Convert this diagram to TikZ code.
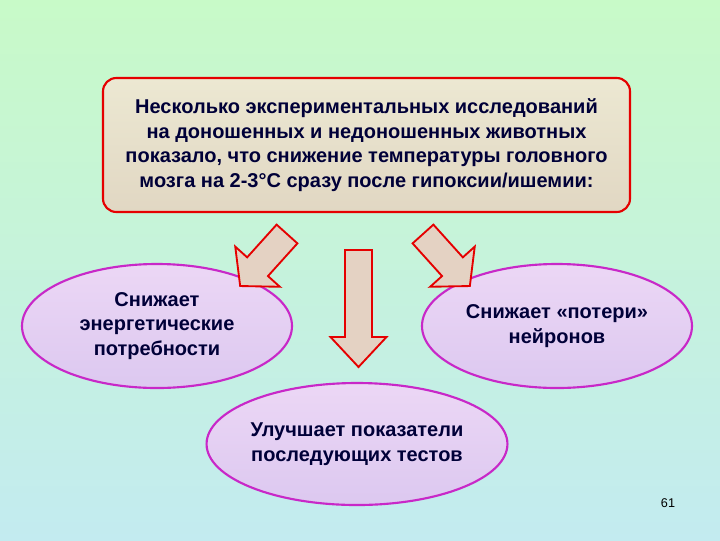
\documentclass[tikz,border=0pt]{standalone}
\usepackage{fontspec}
\setmainfont{Liberation Sans}
\usetikzlibrary{shapes.geometric}
\begin{document}
\begin{tikzpicture}[x=0.75pt,y=-0.75pt,
  txt/.style={text=black!60!blue!55!black,font=\bfseries\fontsize{15}{18.5}\selectfont,align=center,inner sep=0pt},
  ell/.style={draw={rgb,255:red,200;green,40;blue,200},line width=1.6pt,top color={rgb,255:red,236;green,215;blue,245},bottom color={rgb,255:red,220;green,200;blue,240}},
  arr/.style={draw=red!90!black,line width=1.4pt,fill={rgb,255:red,228;green,210;blue,195},line join=miter}]
\shade[top color={rgb,255:red,200;green,250;blue,200},bottom color={rgb,255:red,195;green,235;blue,240}] (0,0) rectangle (720,540);
\useasboundingbox (0,0) rectangle (720,540);
\node[draw=red!90!black,line width=1.6pt,rounded corners=10pt,top color={rgb,255:red,236;green,232;blue,210},bottom color={rgb,255:red,225;green,215;blue,195},minimum width=527*0.75pt,minimum height=134*0.75pt,txt] (top) at (366.5,145) {Несколько экспериментальных исследований\\на доношенных и недоношенных животных\\показало, что снижение температуры головного\\мозга на 2-3°С сразу после гипоксии/ишемии:};
\node[ell,ellipse,minimum width=270*0.75pt,minimum height=124*0.75pt,txt] (l) at (157,326) {Снижает\\энергетические\\потребности};
\node[ell,ellipse,minimum width=270*0.75pt,minimum height=124*0.75pt,txt] (r) at (557,326) {Снижает «потери»\\нейронов};
\node[ell,ellipse,minimum width=270*0.75pt,minimum height=122*0.75pt,txt] (b) at (357,444) {Улучшает показатели\\последующих тестов};
\begin{scope}[shift={(358.5,250)}]
\draw[arr] (-13.5,0) -- (13.5,0) -- (13.5,87) -- (28,87) -- (0,117) -- (-28,87) -- (-13.5,87) -- cycle;
\end{scope}
\begin{scope}[shift={(287,234)},rotate=-42]
\draw[arr] (-14,0) -- (14,0) -- (14,44) -- (30,44) -- (0,70) -- (-30,44) -- (-14,44) -- cycle;
\end{scope}
\begin{scope}[shift={(423,234)},rotate=42]
\draw[arr] (-14,0) -- (14,0) -- (14,44) -- (30,44) -- (0,70) -- (-30,44) -- (-14,44) -- cycle;
\end{scope}
\node[font=\fontsize{9.5}{11}\selectfont] (n) at (668,503) {61};
\end{tikzpicture}
\end{document}
